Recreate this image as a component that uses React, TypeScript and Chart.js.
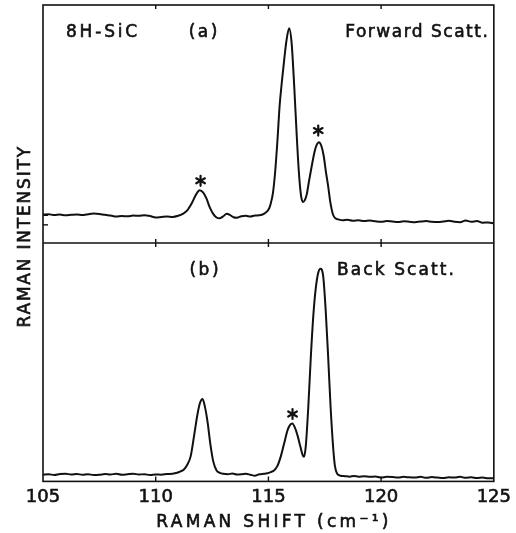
import React, { useEffect, useRef } from 'react';
import { Chart, registerables } from 'chart.js';

Chart.register(...registerables);

// Panel (a): forward scattering
const shiftA = [
  105.0, 105.25, 105.5, 105.75, 106.0, 106.25, 106.5, 106.75, 107.0, 107.25, 107.5, 107.75,
  108.0, 108.25, 108.5, 108.75, 109.0, 109.25, 109.5, 109.75, 110.0, 110.25, 110.5, 110.75,
  111.0, 111.2, 111.4, 111.6, 111.8, 111.95, 112.1, 112.25, 112.4, 112.55, 112.7, 112.85,
  113.0, 113.15, 113.3, 113.45, 113.6, 113.8, 114.0, 114.2, 114.4, 114.6, 114.8, 115.0,
  115.1, 115.2, 115.3, 115.4, 115.5, 115.6, 115.7, 115.8, 115.92, 116.03, 116.15, 116.25,
  116.35, 116.45, 116.54, 116.62, 116.7, 116.8, 116.92, 117.05, 117.15, 117.24, 117.35, 117.45,
  117.55, 117.65, 117.75, 117.85, 117.95, 118.1, 118.3, 118.5, 118.75, 119.0, 119.25, 119.5,
  119.75, 120.0, 120.25, 120.5, 120.75, 121.0, 121.25, 121.5, 121.75, 122.0, 122.25, 122.5,
  122.75, 123.0, 123.25, 123.5, 123.75, 124.0, 124.25, 124.5, 124.75, 125.0,
];
const intensityA = [
  12.0, 12.2, 11.8, 12.0, 11.7, 11.9, 12.1, 11.8, 12.2, 12.5, 12.3, 11.9,
  11.6, 11.2, 11.4, 11.3, 11.6, 11.5, 11.7, 11.4, 10.8, 11.0, 11.2, 11.0,
  11.5, 12.3, 13.8, 16.8, 20.6, 22.2, 21.3, 18.8, 15.0, 12.3, 10.8, 10.5,
  11.3, 12.4, 11.8, 10.9, 10.7, 11.3, 11.5, 11.2, 11.6, 11.7, 12.3, 14.0,
  16.5, 21.0, 30.0, 43.0, 58.0, 68.0, 77.0, 85.0, 90.2, 84.0, 65.0, 46.3,
  30.0, 19.8, 17.3, 18.2, 20.5, 26.0, 32.3, 38.5, 41.5, 42.4, 40.8, 36.8,
  30.0, 24.0, 17.0, 12.5, 10.6, 10.0, 9.6, 9.8, 9.4, 9.6, 9.3, 9.5,
  9.2, 9.0, 9.3, 9.1, 8.9, 9.2, 9.0, 8.8, 9.1, 9.3, 9.0, 8.9,
  9.1, 9.4, 9.0, 8.8, 9.5, 9.0, 9.3, 8.6, 8.7, 8.4,
];

// Panel (b): back scattering
const shiftB = [
  105.0, 105.25, 105.5, 105.75, 106.0, 106.25, 106.5, 106.75, 107.0, 107.25, 107.5, 107.75,
  108.0, 108.25, 108.5, 108.75, 109.0, 109.25, 109.5, 109.75, 110.0, 110.25, 110.5, 110.75,
  110.95, 111.1, 111.25, 111.4, 111.55, 111.7, 111.85, 111.96, 112.08, 112.18, 112.3, 112.42,
  112.55, 112.7, 112.85, 113.0, 113.2, 113.4, 113.6, 113.8, 114.0, 114.2, 114.4, 114.6,
  114.8, 114.95, 115.1, 115.25, 115.4, 115.55, 115.7, 115.85, 115.97, 116.06, 116.18, 116.3,
  116.42, 116.52, 116.58, 116.66, 116.77, 116.88, 116.99, 117.1, 117.21, 117.31, 117.43, 117.54,
  117.65, 117.76, 117.87, 117.95, 118.05, 118.2, 118.4, 118.6, 118.8, 119.0, 119.25, 119.5,
  119.75, 120.0, 120.25, 120.5, 120.75, 121.0, 121.25, 121.5, 121.75, 122.0, 122.25, 122.5,
  122.75, 123.0, 123.25, 123.5, 123.75, 124.0, 124.25, 124.5, 124.75, 125.0,
];
const intensityB = [
  2.8, 3.0, 2.7, 3.1, 3.2, 2.9, 3.1, 2.8, 3.0, 2.7, 2.8, 3.1,
  2.9, 3.2, 2.8, 3.0, 3.2, 2.9, 3.0, 2.7, 2.9, 2.8, 3.1, 3.2,
  3.6, 4.2, 5.0, 7.0, 10.5, 19.0, 28.0, 32.8, 34.6, 31.5, 25.0, 16.0,
  8.5, 4.6, 3.6, 3.2, 3.0, 3.3, 2.9, 3.0, 3.2, 2.8, 2.4, 3.0,
  3.2, 3.4, 3.9, 4.6, 6.5, 10.5, 16.0, 21.5, 23.8, 24.3, 22.5, 19.0,
  14.5, 11.0, 10.3, 15.0, 31.4, 52.0, 69.3, 81.0, 87.6, 89.3, 86.2, 72.0,
  52.4, 31.0, 14.5, 6.5, 3.2, 2.4, 2.2, 2.0, 2.3, 2.0, 2.2, 1.9,
  2.1, 1.6, 1.9, 1.8, 1.6, 1.9, 1.7, 1.6, 1.9, 1.5, 1.8, 1.6,
  1.4, 1.7, 1.6, 1.9, 1.5, 1.7, 1.4, 1.6, 1.3, 1.3,
];

const xTickValues = [105, 110, 115, 120, 125];
const frameTickValues = [110, 115, 120];
const starsAx = [111.99, 117.21];
const starsAy = [26.2, 47.3];
const starsBx = [116.07];
const starsBy = [28.3];
const leftMarksA = [11.7, 7.7];

const INK = '#111';
const FONT = '"DejaVu Sans", sans-serif';

function drawStar(ctx: CanvasRenderingContext2D, cx: number, cy: number) {
  const r = 5;
  ctx.save();
  ctx.lineWidth = 2.2;
  ctx.lineCap = 'round';
  for (const a of [90, 30, 150]) {
    const rad = (a * Math.PI) / 180;
    ctx.beginPath();
    ctx.moveTo(cx - r * Math.cos(rad), cy - r * Math.sin(rad));
    ctx.lineTo(cx + r * Math.cos(rad), cy + r * Math.sin(rad));
    ctx.stroke();
  }
  ctx.restore();
}

function spacedText(ctx: any, text: string, x: number, y: number, align: CanvasTextAlign, spacing: number) {
  ctx.letterSpacing = spacing + 'px';
  ctx.textAlign = align;
  const shift = align === 'center' ? spacing / 2 : align === 'right' ? spacing : 0;
  ctx.fillText(text, x + shift, y);
  ctx.lineWidth = 0.6;
  ctx.strokeText(text, x + shift, y);
}

const framePlugin = {
  id: 'framePlugin',
  afterDraw(chart: any) {
    const ctx = chart.ctx as CanvasRenderingContext2D;
    const { left, right, top, bottom } = chart.chartArea;
    const x = chart.scales.x;
    const yA = chart.scales.yA;
    const yB = chart.scales.yB;
    const mid = Math.round((yA.bottom + yB.top) / 2);
    ctx.save();
    ctx.strokeStyle = INK;
    ctx.fillStyle = INK;
    ctx.lineWidth = 1.6;
    ctx.strokeRect(left, top, right - left, bottom - top);
    ctx.beginPath();
    ctx.moveTo(left, mid);
    ctx.lineTo(right, mid);
    ctx.stroke();
    ctx.lineWidth = 1.4;
    for (const v of frameTickValues) {
      const px = x.getPixelForValue(v);
      ctx.beginPath();
      ctx.moveTo(px, top);
      ctx.lineTo(px, top + 4);
      ctx.moveTo(px, mid - 4);
      ctx.lineTo(px, mid + 4);
      ctx.moveTo(px, bottom);
      ctx.lineTo(px, bottom - 5);
      ctx.stroke();
    }
    for (const v of leftMarksA) {
      const py = yA.getPixelForValue(v);
      ctx.beginPath();
      ctx.moveTo(left, py);
      ctx.lineTo(left + 5, py);
      ctx.stroke();
    }
    starsAx.forEach((sx, i) => drawStar(ctx, x.getPixelForValue(sx), yA.getPixelForValue(starsAy[i])));
    starsBx.forEach((sx, i) => drawStar(ctx, x.getPixelForValue(sx), yB.getPixelForValue(starsBy[i])));

    ctx.font = '17px ' + FONT;
    ctx.textBaseline = 'alphabetic';
    spacedText(ctx, '8H-SiC', left + 23, top + 32, 'left', 2.8);
    spacedText(ctx, '(a)', left + 160, top + 32, 'center', 2.5);
    spacedText(ctx, 'Forward Scatt.', right - 6, top + 32, 'right', 1.5);
    spacedText(ctx, '(b)', left + 161, mid + 32, 'center', 2.5);
    spacedText(ctx, 'Back Scatt.', left + 294, mid + 32, 'left', 2.1);

    ctx.font = '17px ' + FONT;
    spacedText(ctx, 'RAMAN SHIFT (cm⁻¹)', (left + right) / 2 + 4, 527, 'center', 3.3);

    ctx.save();
    ctx.translate(26, (top + bottom) / 2 - 6);
    ctx.rotate(-Math.PI / 2);
    ctx.textBaseline = 'middle';
    spacedText(ctx, 'RAMAN INTENSITY', 0, 0, 'center', 1.8);
    ctx.restore();
    ctx.restore();
  },
};

export default function App() {
  const ref = useRef<HTMLCanvasElement | null>(null);
  useEffect(() => {
    if (!ref.current) return;
    const chart = new Chart(ref.current, {
      type: 'line',
      data: {
        datasets: [
          {
            label: 'Forward Scatt.',
            data: shiftA.map((s, i) => ({ x: s, y: intensityA[i] })),
            yAxisID: 'yA',
            borderColor: INK,
            borderWidth: 2,
            pointRadius: 0,
            cubicInterpolationMode: 'monotone',
            fill: false,
          },
          {
            label: 'Back Scatt.',
            data: shiftB.map((s, i) => ({ x: s, y: intensityB[i] })),
            yAxisID: 'yB',
            borderColor: INK,
            borderWidth: 2,
            pointRadius: 0,
            cubicInterpolationMode: 'monotone',
            fill: false,
          },
        ],
      },
      options: {
        animation: false,
        responsive: true,
        maintainAspectRatio: false,
        layout: { padding: { left: 43, right: 22, top: 5, bottom: 20 } },
        plugins: { legend: { display: false }, tooltip: { enabled: false } },
        scales: {
          x: {
            type: 'linear',
            min: 105,
            max: 125,
            grid: { display: false, drawTicks: false },
            border: { display: false },
            afterBuildTicks: (axis: any) => {
              axis.ticks = xTickValues.map((v) => ({ value: v }));
            },
            ticks: {
              padding: 5,
              maxRotation: 0,
              autoSkip: false,
              color: INK,
              textStrokeColor: INK,
              textStrokeWidth: 0.6,
              font: { family: FONT, size: 18 },
            },
          },
          yB: {
            type: 'linear',
            position: 'left',
            stack: 'panels',
            stackWeight: 1,
            min: 0,
            max: 100,
            grid: { display: false, drawTicks: false },
            border: { display: false },
            ticks: { display: false },
          },
          yA: {
            type: 'linear',
            position: 'left',
            stack: 'panels',
            stackWeight: 1,
            min: 0,
            max: 100,
            grid: { display: false, drawTicks: false },
            border: { display: false },
            ticks: { display: false },
          },
        },
      },
      plugins: [framePlugin],
    } as any);
    return () => chart.destroy();
  }, []);
  return (
    <div style={{ position: 'fixed', left: 0, top: 0, width: 516, height: 533, background: '#fff' }}>
      <canvas ref={ref} />
    </div>
  );
}
